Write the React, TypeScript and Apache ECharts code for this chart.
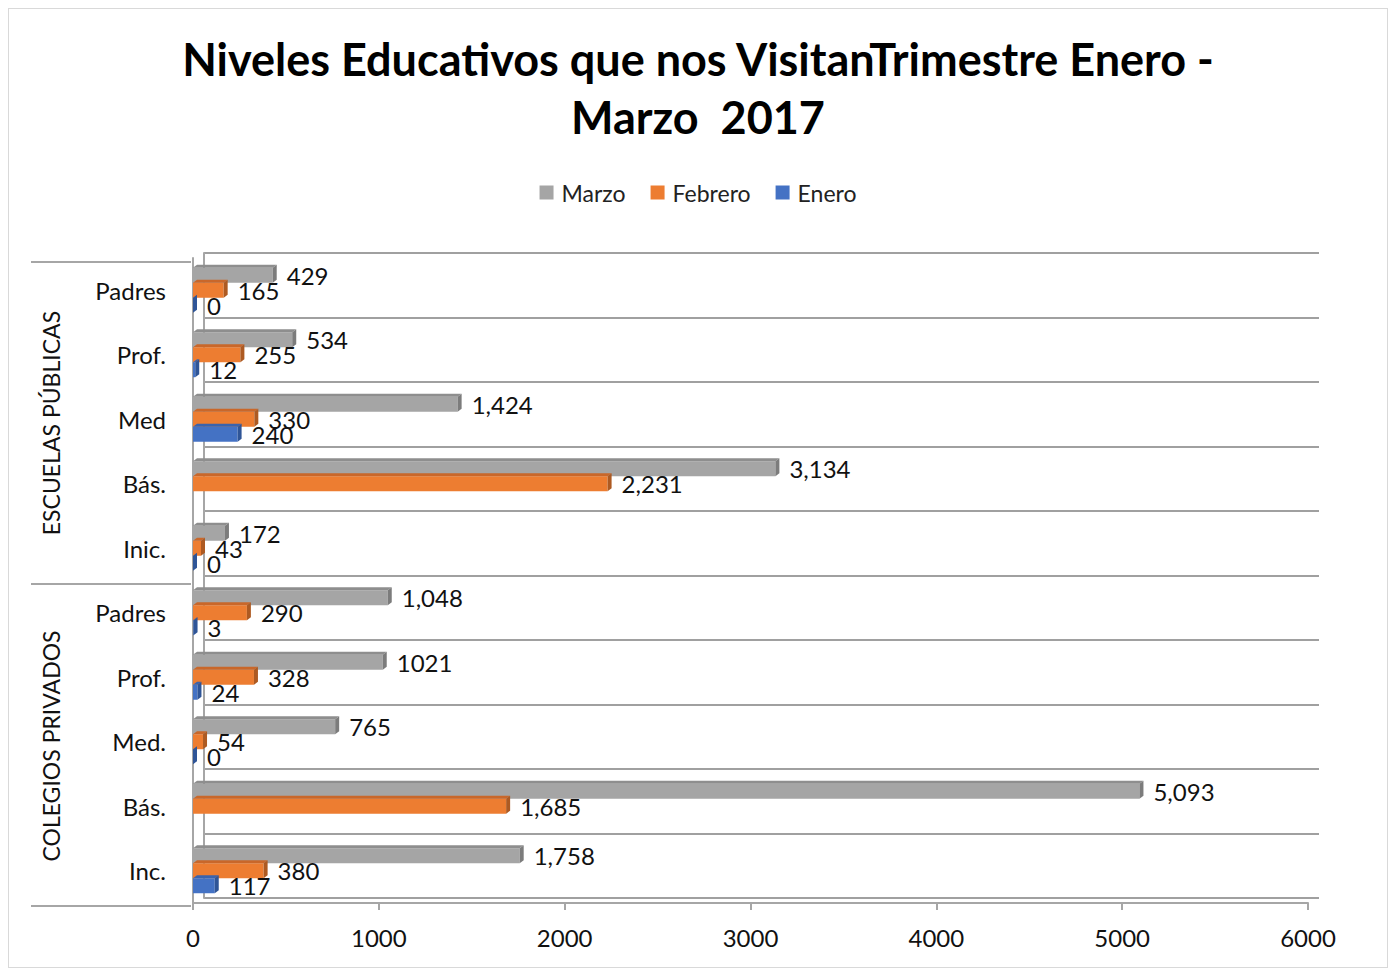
import React, { useEffect, useRef } from "react";
import * as echarts from "echarts";

const categories = ["Inc.", "Bás.", "Med.", "Prof.", "Padres", "Inic.", "Bás.", "Med", "Prof.", "Padres"];
const groups = ["COLEGIOS PRIVADOS", "ESCUELAS PÚBLICAS"];
const marzo = [1758, 5093, 765, 1021, 1048, 172, 3134, 1424, 534, 429];
const febrero = [380, 1685, 54, 328, 290, 43, 2231, 330, 255, 165];
const enero: (number | null)[] = [117, null, 0, 24, 3, 0, null, 240, 12, 0];
const marzoLabels = ["1,758", "5,093", "765", "1021", "1,048", "172", "3,134", "1,424", "534", "429"];
const febreroLabels = ["380", "1,685", "54", "328", "290", "43", "2,231", "330", "255", "165"];
const eneroLabels = ["117", "", "0", "24", "3", "0", "", "240", "12", "0"];

const FONT = "Lato";
const BAR = 15;

export default function App() {
  const ref = useRef<HTMLDivElement>(null);
  useEffect(() => {
    const chart = echarts.init(ref.current!, null, { renderer: "svg" });
    const mk = (name: string, data: (number | null)[], labels: string[], color: string) => ({
      name,
      type: "bar",
      xAxisIndex: 0,
      yAxisIndex: 0,
      data: data.map((v) => (v === null ? "-" : v)),
      barWidth: BAR,
      barGap: "0%",
      itemStyle: { color },
      z: 2,
      label: {
        show: true,
        position: "right",
        distance: 14,
        fontFamily: FONT,
        fontSize: 24,
        color: "#111",
        formatter: (p: any) => labels[p.dataIndex],
      },
    });
    const caps = (name: string, data: (number | null)[], slot: number, side: string, top: string) => ({
      name,
      type: "custom",
      xAxisIndex: 0,
      yAxisIndex: 0,
      z: 3,
      silent: true,
      data: data.map((v, i) => (v === null ? null : [v, i])).filter((d) => d !== null),
      encode: { x: 0, y: 1 },
      renderItem: (params: any, api: any) => {
        const end = api.coord([api.value(0), api.value(1)]);
        const start = api.coord([0, api.value(1)]);
        const y0 = end[1] - 1.5 * BAR + slot * BAR;
        const y1 = y0 + BAR;
        const x = end[0];
        const x0 = start[0];
        const dx = 4;
        const dy = 3;
        return {
          type: "group",
          children: [
            {
              type: "polygon",
              shape: { points: [[x0, y0], [x0 + dx, y0 - dy], [x + dx, y0 - dy], [x, y0]] },
              style: { fill: top },
            },
            {
              type: "polygon",
              shape: { points: [[x, y0], [x + dx, y0 - dy], [x + dx, y1 - dy], [x, y1]] },
              style: { fill: side },
            },
          ],
        };
      },
    });
    chart.setOption({
      animation: false,
      textStyle: { fontFamily: FONT },
      title: {
        text: "Niveles Educativos que nos VisitanTrimestre Enero -\nMarzo  2017",
        left: "center",
        top: 16,
        textStyle: { fontFamily: FONT, fontSize: 45, fontWeight: "bold", lineHeight: 58, color: "#000" },
      },
      legend: {
        data: ["Marzo", "Febrero", "Enero"],
        top: 167,
        left: "center",
        itemWidth: 14,
        itemHeight: 14,
        itemGap: 25,
        icon: "rect",
        textStyle: { fontFamily: FONT, fontSize: 23, color: "#222", padding: [0, 0, 0, 3] },
      },
      grid: [
        { left: 184, right: 79, top: 249, height: 645 },
        { left: 195, right: 68, top: 244, height: 645 },
      ],
      xAxis: [
        {
          type: "value",
          gridIndex: 0,
          min: 0,
          max: 6000,
          interval: 1000,
          axisLine: { show: true, lineStyle: { color: "#a6a6a6", width: 2 } },
          axisTick: { show: true, length: 7, lineStyle: { color: "#a6a6a6", width: 2 } },
          splitLine: { show: false },
          axisLabel: { fontFamily: FONT, fontSize: 24, color: "#111", margin: 22, formatter: (v: number) => String(v) },
        },
        { type: "value", gridIndex: 1, min: 0, max: 6000, show: false, splitLine: { show: false } },
      ],
      yAxis: [
        {
          type: "category",
          gridIndex: 0,
          data: categories,
          axisLine: { show: true, lineStyle: { color: "#a6a6a6", width: 2 } },
          axisTick: { show: false },
          splitLine: { show: false },
          axisLabel: { fontFamily: FONT, fontSize: 24, color: "#111", margin: 27 },
        },
        {
          type: "category",
          gridIndex: 1,
          data: categories,
          axisLine: { show: true, lineStyle: { color: "#a6a6a6", width: 2 } },
          axisTick: { show: false },
          axisLabel: { show: false },
          splitLine: { show: true, lineStyle: { color: "#a0a0a0", width: 2 } },
        },
      ],
      graphic: [
        { type: "line", shape: { x1: 22, y1: 253, x2: 182, y2: 253 }, style: { stroke: "#a6a6a6", lineWidth: 2 } },
        { type: "line", shape: { x1: 22, y1: 575, x2: 182, y2: 575 }, style: { stroke: "#a6a6a6", lineWidth: 2 } },
        { type: "line", shape: { x1: 22, y1: 897, x2: 182, y2: 897 }, style: { stroke: "#a6a6a6", lineWidth: 2 } },
        {
          type: "text",
          x: 42,
          y: 414,
          rotation: Math.PI / 2,
          style: { text: groups[1], fontFamily: FONT, fontSize: 23, fill: "#111", align: "center", verticalAlign: "middle" },
        },
        {
          type: "text",
          x: 42,
          y: 737,
          rotation: Math.PI / 2,
          style: { text: groups[0], fontFamily: FONT, fontSize: 23, fill: "#111", align: "center", verticalAlign: "middle" },
        },
      ],
      series: [
        mk("Marzo", marzo, marzoLabels, "#a5a5a5"),
        mk("Febrero", febrero, febreroLabels, "#ed7d31"),
        mk("Enero", enero, eneroLabels, "#4472c4"),
        caps("Marzo 3D", marzo, 0, "#7c7c7c", "#8e8e8e"),
        caps("Febrero 3D", febrero, 1, "#ad5a22", "#c9672a"),
        caps("Enero 3D", enero, 2, "#2f5597", "#3a63ad"),
      ],
    });
    return () => chart.dispose();
  }, []);
  return (
    <div
      ref={ref}
      style={{ width: 1380, height: 960, border: "1px solid #d9d9d9", boxSizing: "border-box", background: "#fff" }}
    />
  );
}
